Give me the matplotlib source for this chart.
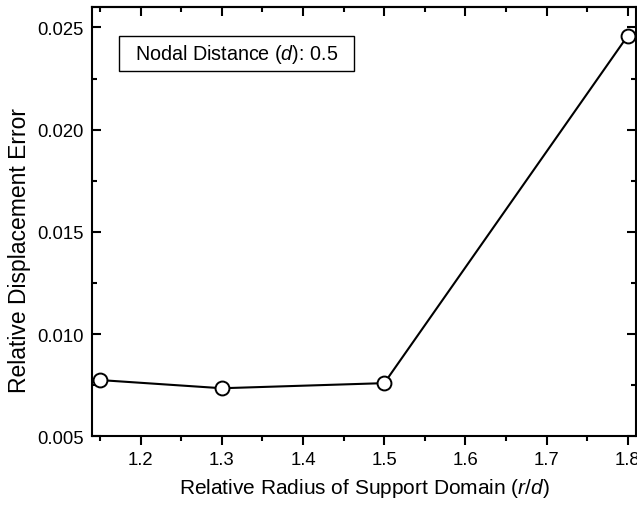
import matplotlib
matplotlib.use('Agg')
import matplotlib.pyplot as plt
from matplotlib.patches import Rectangle
from matplotlib.ticker import MultipleLocator, NullFormatter

plt.rcParams['font.family'] = 'Liberation Sans'
plt.rcParams['mathtext.fontset'] = 'custom'
plt.rcParams['mathtext.it'] = 'Liberation Sans:italic'
plt.rcParams['mathtext.rm'] = 'Liberation Sans'

# relative radius of support domain vs displacement error
radius = [1.15, 1.3, 1.5, 1.8]
error = [0.00775, 0.00735, 0.0076, 0.0246]

fig = plt.figure(figsize=(6.37, 5.06), dpi=100)
ax = fig.add_axes([0.1444, 0.1358, 0.854, 0.8484])

ax.plot(radius, error, color='black', lw=1.5, marker='o', ms=10,
        mfc='white', mec='black', mew=1.4, clip_on=False, zorder=3)

ax.set_xlim(1.14, 1.81)
ax.set_ylim(0.005, 0.026)
ax.xaxis.set_major_locator(MultipleLocator(0.1))
ax.xaxis.set_minor_locator(MultipleLocator(0.05))
ax.yaxis.set_major_locator(MultipleLocator(0.005))
ax.yaxis.set_minor_locator(MultipleLocator(0.0025))
ax.yaxis.set_major_formatter(plt.FormatStrFormatter('%.3f'))
ax.xaxis.set_major_formatter(plt.FormatStrFormatter('%.1f'))

for s in ax.spines.values():
    s.set_linewidth(1.5)

# left/right ticks inside, bottom ticks outside
ax.tick_params(axis='y', which='both', left=True, right=True, direction='in',
               width=1.5, labelsize=13.3, pad=6)
ax.tick_params(axis='y', which='major', length=6.3)
ax.tick_params(axis='y', which='minor', length=3.7)
ax.tick_params(axis='x', which='both', bottom=True, top=False, direction='out',
               width=1.5, labelsize=13.3, pad=4)
ax.tick_params(axis='x', which='major', length=6.3)
ax.tick_params(axis='x', which='minor', length=3.7)

# top ticks pointing inward
top = ax.secondary_xaxis('top')
top.xaxis.set_major_locator(MultipleLocator(0.1))
top.xaxis.set_minor_locator(MultipleLocator(0.05))
top.xaxis.set_major_formatter(NullFormatter())
top.spines['top'].set_linewidth(1.5)
top.tick_params(which='both', direction='in', width=1.5)
top.tick_params(which='major', length=6.3)
top.tick_params(which='minor', length=3.7)

ax.set_xlabel('Relative Radius of Support Domain ($\\it{r/d}$)', fontsize=15, labelpad=6)
ax.set_ylabel('Relative Displacement Error', fontsize=16.5)
ax.yaxis.set_label_coords(-0.112, 0.436)

# annotation box
ax.add_patch(Rectangle((0.0496, 0.8516), 0.432, 0.0816, transform=ax.transAxes,
                       fc='white', ec='black', lw=1.0, zorder=4))
ax.text(0.079, 0.8928, 'Nodal Distance ($\\it{d}$): 0.5', transform=ax.transAxes,
        fontsize=14.2, va='center', ha='left', zorder=5)

fig.savefig('out.png', dpi=100)
